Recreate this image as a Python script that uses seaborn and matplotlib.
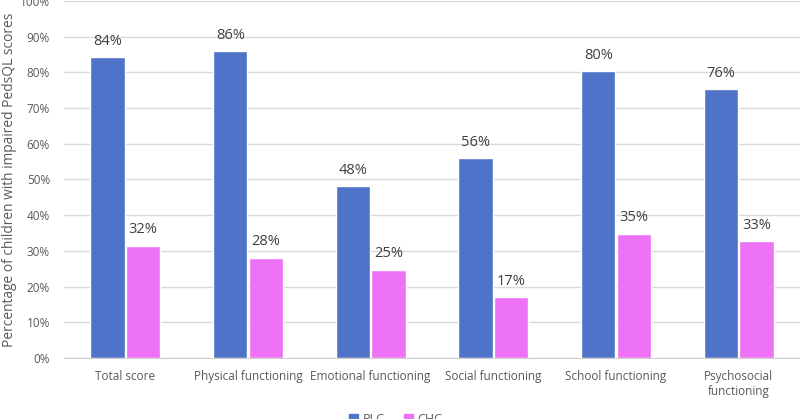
import pandas as pd
import numpy as np
import matplotlib
matplotlib.use('Agg')
import matplotlib.pyplot as plt
import seaborn as sns

categories = ['Total score', 'Physical functioning', 'Emotional functioning',
              'Social functioning', 'School functioning', 'Psychosocial\nfunctioning']
groups = ['PLC', 'CHC']
plc_values = [84.3, 85.9, 48.1, 55.9, 80.3, 75.3]
chc_values = [31.5, 28.1, 24.7, 17.0, 34.8, 32.7]
plc_labels = ['84%', '86%', '48%', '56%', '80%', '76%']
chc_labels = ['32%', '28%', '25%', '17%', '35%', '33%']

df = pd.DataFrame({
    'category': categories * 2,
    'group': [groups[0]] * len(categories) + [groups[1]] * len(categories),
    'value': plc_values + chc_values,
})

sns.set_style('white')
plt.rcParams['font.family'] = ['Open Sans', 'DejaVu Sans']

fig = plt.figure(figsize=(8, 4.19), dpi=100)
ax = fig.add_axes([0.08, 0.1456, 0.92, 0.852])

palette = {'PLC': '#4E73C8', 'CHC': '#EE72F5'}
sns.barplot(data=df, x='category', y='value', hue='group', palette=palette,
            width=0.58, gap=0.03, saturation=1, ax=ax, legend=False)

for cont, labs in zip(ax.containers, [plc_labels, chc_labels]):
    ax.bar_label(cont, labels=labs, padding=6, fontsize=10.5, color='#404040')

ax.set_ylim(0, 100)
ax.set_yticks(np.arange(0, 101, 10))
ax.set_yticklabels([f'{v}%' for v in range(0, 101, 10)])
ax.yaxis.grid(True, color='#D9D9D9', linewidth=1)
ax.set_axisbelow(True)
for s in ['top', 'right', 'left']:
    ax.spines[s].set_visible(False)
ax.spines['bottom'].set_color('#D0D0D0')
ax.tick_params(axis='both', length=0, labelsize=8.5, labelcolor='#595959')
ax.tick_params(axis='y', pad=10)
ax.tick_params(axis='x', pad=9)
ax.set_xlabel('')
ax.set_ylabel('Percentage of children with impaired PedsQL scores',
              fontsize=9.9, color='#595959', labelpad=2)

handles = [plt.Rectangle((0, 0), 1, 1, color=palette[g]) for g in groups]
fig.legend(handles, groups, loc='center', bbox_to_anchor=(0.495, 0.0), ncol=2,
           frameon=False, fontsize=9, handlelength=0.7, handleheight=0.7,
           columnspacing=1.5, handletextpad=0.4, labelcolor='#595959')

fig.savefig('out.png', dpi=100)
